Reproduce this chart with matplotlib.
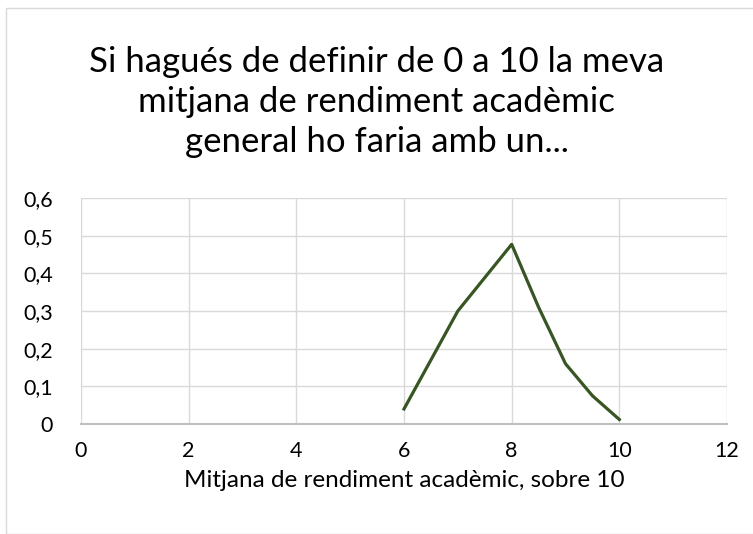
import matplotlib
matplotlib.use("Agg")
import matplotlib.pyplot as plt
from matplotlib.patches import Rectangle
from matplotlib.ticker import FuncFormatter

TITLE = "Si hagués de definir de 0 a 10 la meva\nmitjana de rendiment acadèmic\ngeneral ho faria amb un..."
XLABEL = "Mitjana de rendiment acadèmic, sobre 10"
grade = [6, 7, 8, 8.5, 9, 9.5, 10]
share = [0.04, 0.30, 0.477, 0.31, 0.16, 0.075, 0.012]
x_ticks = [0, 2, 4, 6, 8, 10, 12]
y_ticks = [0, 0.1, 0.2, 0.3, 0.4, 0.5, 0.6]

W, H = 753, 534
plt.rcParams["font.family"] = ["Lato", "DejaVu Sans"]

fig = plt.figure(figsize=(W / 100, H / 100), dpi=100)
fig.patches.append(Rectangle((6 / W, 0), 1.0, 1 - 8 / H, transform=fig.transFigure,
                             fill=False, edgecolor="#d9d9d9", linewidth=1.0))

ax = fig.add_axes([81 / W, 1 - 424 / H, (727 - 81) / W, (424 - 198) / H])
ax.plot(grade, share, color="#375623", linewidth=2.3, solid_joinstyle="round")

ax.set_xlim(0, 12)
ax.set_ylim(0, 0.6)
ax.set_xticks(x_ticks)
ax.set_yticks(y_ticks)
ax.yaxis.set_major_formatter(FuncFormatter(lambda v, _: "0" if v == 0 else f"{v:.1f}".replace(".", ",")))
ax.grid(True, color="#d9d9d9", linewidth=1.0)
ax.set_axisbelow(True)
for side in ("top", "right", "left"):
    ax.spines[side].set_visible(False)
ax.spines["bottom"].set_color("#bfbfbf")
ax.spines["bottom"].set_linewidth(1.5)
ax.tick_params(length=0, labelsize=15.5, colors="#000000")
ax.tick_params(axis="x", pad=12)
ax.tick_params(axis="y", pad=20)

ax.set_xlabel(XLABEL, fontsize=17.5, labelpad=7)
fig.text(0.5, 1 - 102 / H, TITLE, ha="center", va="center",
         fontsize=25, linespacing=1.3)

fig.savefig("out.png", dpi=100)
